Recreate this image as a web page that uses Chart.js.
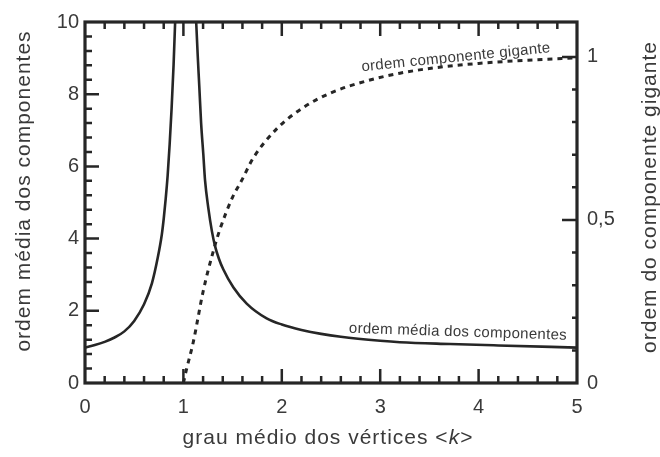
<!DOCTYPE html>
<html>
<head>
<meta charset="utf-8">
<script src="https://cdn.jsdelivr.net/npm/chart.js@4.4.1/dist/chart.umd.min.js"></script>
<style>
  html, body { margin: 0; padding: 0; background: #fff; }
</style>
</head>
<body>
<canvas id="grafico" width="660" height="457"></canvas>
<script>
// grau médio <k> e ordem média dos componentes (eixo esquerdo), null = divergência em k=1
const kMedia = [0, 0.1, 0.2, 0.3, 0.4, 0.5, 0.6, 0.68, 0.74, 0.78, 0.8, 0.82, 0.84, 0.86, 0.88, 0.9, 0.92,
  1.0,
  1.125, 1.145, 1.162, 1.18, 1.202, 1.22, 1.253, 1.29, 1.321, 1.36, 1.405, 1.507, 1.643, 1.846, 2.0, 2.2, 2.4, 2.6, 3.0, 3.2, 3.71, 4.2, 5.0];
const ordemMedia = [0.98, 1.05, 1.14, 1.26, 1.43, 1.72, 2.18, 2.76, 3.48, 4.1, 4.55, 5.1, 5.75, 6.6, 7.6, 8.8, 10.3,
  null,
  10.3, 9.1, 8.19, 7.2, 6.35, 5.61, 4.85, 4.2, 3.8, 3.45, 3.15, 2.65, 2.2, 1.79, 1.62, 1.47, 1.36, 1.28, 1.17, 1.13, 1.08, 1.04, 0.98];

// ordem do componente gigante (eixo direito)
const kGigante = [1.0, 1.03, 1.1, 1.2, 1.3, 1.37, 1.5, 1.59, 1.71, 1.95, 2.22, 2.5, 2.87, 3.2, 3.54, 4.0, 4.5, 5.0];
const ordemGigante = [0, 0.04, 0.125, 0.28, 0.4, 0.47, 0.57, 0.62, 0.69, 0.78, 0.845, 0.89, 0.927, 0.95, 0.966, 0.98, 0.99, 0.997];

const xTicks = [0, 1, 2, 3, 4, 5];
const yEsqTicks = [0, 2, 4, 6, 8, 10];
const yDirTicks = [0, 0.5, 1];

const corLinha = '#262626';
const corTexto = '#3a3a3a';
const fonte = '"Liberation Sans", Arial, sans-serif';

Chart.defaults.font.family = fonte;
Chart.defaults.color = corTexto;

// moldura com marcas internas
const moldura = {
  id: 'moldura',
  afterDatasetsDraw(chart) {
    const { ctx, chartArea: a, scales } = chart;
    ctx.save();
    ctx.strokeStyle = corLinha;
    ctx.lineWidth = 2.5;
    ctx.beginPath();
    for (let i = 1; i < 25; i++) {
      const px = scales.x.getPixelForValue(i / 5);
      const len = i % 5 === 0 ? 14 : 7;
      ctx.moveTo(px, a.bottom); ctx.lineTo(px, a.bottom - len);
      ctx.moveTo(px, a.top); ctx.lineTo(px, a.top + len);
    }
    for (let i = 1; i < 25; i++) {
      const py = scales.y.getPixelForValue(i * 0.4);
      const len = i % 5 === 0 ? 14 : 7;
      ctx.moveTo(a.left, py); ctx.lineTo(a.left + len, py);
    }
    for (let i = 1; i <= 10; i++) {
      const py = scales.y1.getPixelForValue(i / 10);
      const len = i % 5 === 0 ? 15 : 5;
      ctx.moveTo(a.right, py); ctx.lineTo(a.right - len, py);
    }
    ctx.stroke();
    ctx.lineWidth = 3.2;
    ctx.strokeRect(a.left, a.top, a.right - a.left, a.bottom - a.top);
    ctx.restore();
  }
};

function escreve(ctx, txt, x, y, rot, tam, esp) {
  ctx.save();
  ctx.translate(x, y);
  ctx.rotate(rot);
  ctx.font = tam + 'px ' + fonte;
  ctx.letterSpacing = esp + 'px';
  ctx.fillStyle = corTexto;
  ctx.textAlign = 'center';
  ctx.textBaseline = 'middle';
  ctx.fillText(txt, 0, 0);
  ctx.restore();
}

// títulos dos eixos e rótulos das curvas
const textos = {
  id: 'textos',
  afterDraw(chart) {
    const { ctx, scales } = chart;
    escreve(ctx, 'ordem média dos componentes', 24, 191, -Math.PI / 2, 21, 1);
    escreve(ctx, 'ordem do componente gigante', 650, 197, -Math.PI / 2, 21, 1);
    // x-title with italic k
    ctx.save();
    ctx.font = '21px ' + fonte;
    ctx.letterSpacing = '1px';
    const parte1 = 'grau médio dos vértices <';
    const w1 = ctx.measureText(parte1).width;
    ctx.font = 'italic 21px ' + fonte;
    const w2 = ctx.measureText('k').width;
    ctx.font = '21px ' + fonte;
    const w3 = ctx.measureText('>').width;
    let x0 = 328 - (w1 + w2 + w3) / 2;
    ctx.fillStyle = corTexto;
    ctx.textBaseline = 'middle';
    ctx.textAlign = 'left';
    ctx.fillText(parte1, x0, 438);
    ctx.font = 'italic 21px ' + fonte;
    ctx.fillText('k', x0 + w1, 438);
    ctx.font = '21px ' + fonte;
    ctx.fillText('>', x0 + w1 + w2, 438);
    ctx.restore();

    escreve(ctx, 'ordem componente gigante',
      scales.x.getPixelForValue(3.77), scales.y1.getPixelForValue(0.998), -5.8 * Math.PI / 180, 15, 0.3);
    escreve(ctx, 'ordem média dos componentes',
      scales.x.getPixelForValue(3.79), scales.y.getPixelForValue(1.41), 1.8 * Math.PI / 180, 15, 0.3);
  }
};

const fixTicks = (lista) => (sc) => { sc.ticks = lista.map(v => ({ value: v })); };

new Chart(document.getElementById('grafico'), {
  type: 'line',
  data: {
    datasets: [
      {
        label: 'ordem média dos componentes',
        data: kMedia.map((k, i) => ({ x: k, y: ordemMedia[i] })),
        yAxisID: 'y',
        borderColor: corLinha,
        borderWidth: 2.6,
        pointRadius: 0,
        cubicInterpolationMode: 'monotone',
        spanGaps: false
      },
      {
        label: 'ordem componente gigante',
        data: kGigante.map((k, i) => ({ x: k, y: ordemGigante[i] })),
        yAxisID: 'y1',
        borderColor: corLinha,
        borderWidth: 3,
        borderDash: [5, 5],
        pointRadius: 0,
        cubicInterpolationMode: 'monotone'
      }
    ]
  },
  options: {
    responsive: false,
    animation: false,
    devicePixelRatio: 1,
    layout: { padding: { top: 21, left: 0, right: 0, bottom: 0 } },
    plugins: { legend: { display: false }, tooltip: { enabled: false } },
    scales: {
      x: {
        type: 'linear', position: 'bottom', min: 0, max: 5,
        afterBuildTicks: fixTicks(xTicks),
        afterFit: (s) => { s.height = 74; },
        grid: { display: false, drawTicks: false },
        border: { display: false },
        ticks: { font: { size: 20 }, padding: 12, maxRotation: 0 }
      },
      y: {
        type: 'linear', position: 'left', min: 0, max: 10,
        afterBuildTicks: fixTicks(yEsqTicks),
        afterFit: (s) => { s.width = 85; },
        grid: { display: false, drawTicks: false },
        border: { display: false },
        ticks: { font: { size: 20 }, padding: 6 }
      },
      y1: {
        type: 'linear', position: 'right', min: 0, max: 1.107,
        afterBuildTicks: fixTicks(yDirTicks),
        afterFit: (s) => { s.width = 83; },
        grid: { display: false, drawTicks: false },
        border: { display: false },
        ticks: { font: { size: 20 }, padding: 10, callback: (v) => String(v).replace('.', ',') }
      }
    }
  },
  plugins: [moldura, textos]
});
</script>
</body>
</html>
